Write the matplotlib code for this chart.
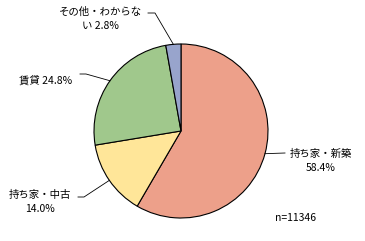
import numpy as np
import matplotlib.pyplot as plt

plt.rcParams['font.family'] = ['Noto Sans CJK JP', 'DejaVu Sans']

labels = ['持ち家・新築', '持ち家・中古', '賃貸', 'その他・わからない']
values = [58.4, 14.0, 24.8, 2.8]
colors = ['#EDA08A', '#FFE699', '#A0C88C', '#98A4CC']
n_total = 11346

W, H = 365, 241
fig = plt.figure(figsize=(W / 100, H / 100), dpi=100)
ax = fig.add_axes([0, 0, 1, 1])

cx, cy, r = 181, H - 131, 87
wedges, _ = ax.pie(values, colors=colors, startangle=90, counterclock=False,
                   center=(cx, cy), radius=r, frame=True,
                   wedgeprops=dict(edgecolor='black', linewidth=0.8))
ax.set_xlim(0, W)
ax.set_ylim(0, H)
ax.set_aspect('equal')
ax.axis('off')

# label texts and their anchor (x, y from top), plus leader start
texts = [
    ('持ち家・新築\n58.4%', (321, 161), (285, 153)),
    ('持ち家・中古\n14.0%', (40, 202), (78, 197)),
    ('賃貸 24.8%', (46, 80), (80, 74)),
    ('その他・わからな\nい 2.8%', (100, 19), (148, 13)),
]
for w, (txt, (tx, ty), (ex, ey)) in zip(wedges, texts):
    ang = np.deg2rad((w.theta1 + w.theta2) / 2)
    px, py = cx + r * np.cos(ang), cy + r * np.sin(ang)
    ax.text(tx, H - ty, txt, ha='center', va='center', fontsize=7.5,
            linespacing=1.5)
    if txt.startswith('その他'):
        xs, ys = [ex, ex + 7, px], [H - ey, H - ey, py]
    elif txt.startswith('持ち家・新築'):
        xs, ys = [ex, px], [H - ey, py]
    else:
        xs, ys = [ex, ex + 6, px], [H - ey, H - ey, py]
    ax.plot(xs, ys, color='black', lw=0.6)

ax.text(275, H - 218, 'n=%d' % n_total, ha='left', va='center', fontsize=7.5)

fig.savefig('out.png', dpi=100)
